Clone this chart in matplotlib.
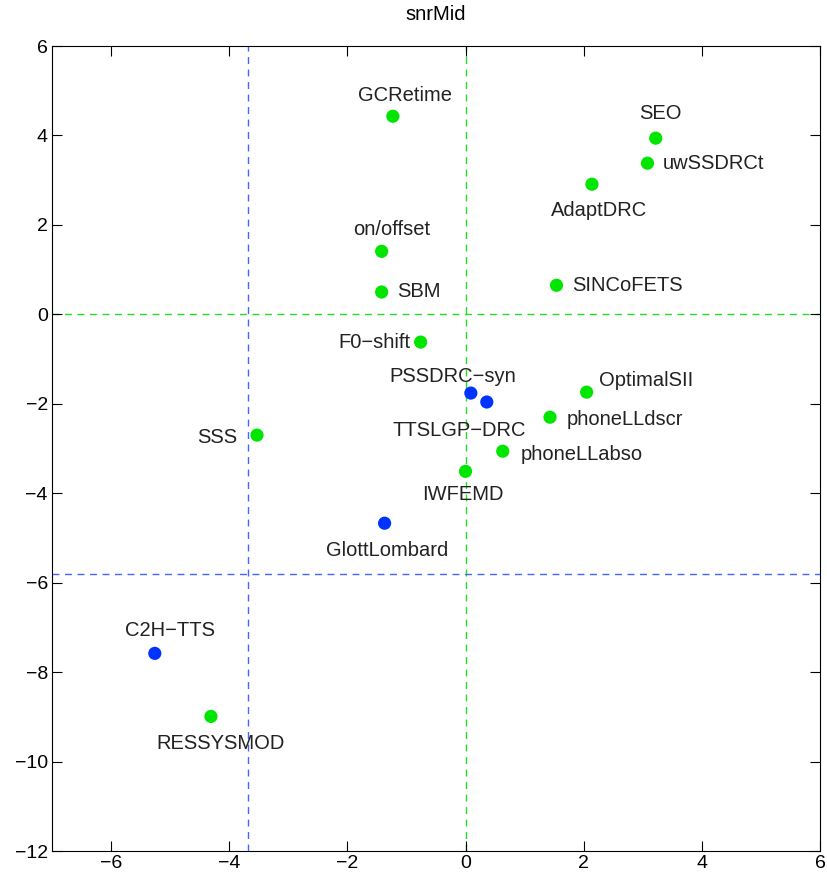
import matplotlib
matplotlib.use("Agg")
import matplotlib.pyplot as plt

# system positions on the two principal axes
names  = ["GCRetime", "SEO", "uwSSDRCt", "AdaptDRC", "on/offset", "SBM",
          "SINCoFETS", "F0\u2212shift", "PSSDRC\u2212syn", "TTSLGP\u2212DRC",
          "OptimalSII", "phoneLLdscr", "SSS", "phoneLLabso", "IWFEMD",
          "GlottLombard", "C2H\u2212TTS", "RESSYSMOD"]
x_vals = [-1.23, 3.22, 3.08, 2.14, -1.42, -1.42, 1.54, -0.76, 0.09, 0.36,
          2.05, 1.43, -3.53, 0.63, 0.00, -1.37, -5.26, -4.31]
y_vals = [4.43, 3.94, 3.38, 2.91, 1.41, 0.50, 0.65, -0.62, -1.76, -1.96,
          -1.74, -2.30, -2.70, -3.06, -3.51, -4.67, -7.58, -8.99]
groups = ["g", "g", "g", "g", "g", "g", "g", "g", "b", "b",
          "g", "g", "g", "g", "g", "b", "b", "g"]

# reference lines
green_x, green_y = 0.0, 0.0
blue_x, blue_y = -3.68, -5.81

# label offsets in pixels (dx, dy, ha)
offsets = [(12, 21, "center"), (5, 25, "center"), (15, 0, "left"),
           (7, -26, "center"), (10, 22, "center"), (15, 0, "left"),
           (16, 0, "left"), (-10, 0, "right"), (-18, 17, "center"),
           (-28, -28, "center"), (12, 12, "left"), (17, -2, "left"),
           (-20, -2, "right"), (18, -3, "left"), (-3, -23, "center"),
           (3, -27, "center"), (15, 23, "center"), (10, -27, "center")]

GREEN = "#00e600"
BLUE = "#0033ff"

plt.rcParams["font.family"] = ["Liberation Sans", "DejaVu Sans"]
plt.rcParams["axes.unicode_minus"] = True

fig = plt.figure(figsize=(8.27, 8.75), dpi=100)
ax = fig.add_axes([0.0629, 0.0274, 0.9286, 0.92])

ax.axvline(green_x, color="#22dd22", linestyle=(0, (5, 4)), linewidth=1.0, zorder=1)
ax.axhline(green_y, color="#22dd22", linestyle=(0, (5, 4)), linewidth=1.0, zorder=1)
ax.axvline(blue_x, color="#4466ff", linestyle=(0, (5, 4)), linewidth=1.0, zorder=1)
ax.axhline(blue_y, color="#4466ff", linestyle=(0, (5, 4)), linewidth=1.0, zorder=1)

for name, x, y, g, (dx, dy, ha) in zip(names, x_vals, y_vals, groups, offsets):
    ax.scatter([x], [y], s=90, color=GREEN if g == "g" else BLUE,
               edgecolors="none", zorder=3)
    ax.annotate(name, xy=(x, y), xytext=(dx, dy), textcoords="offset pixels",
                ha=ha, va="center", fontsize=14.5, color="#222222", zorder=4)

ax.set_xlim(-7, 6)
ax.set_ylim(-12, 6)
ax.set_xticks(range(-6, 7, 2))
ax.set_yticks(range(-12, 7, 2))
ax.tick_params(direction="in", length=7, width=0.8, top=True, right=True,
               labelsize=14, pad=3)
for sp in ax.spines.values():
    sp.set_linewidth(0.8)

ax.set_title("snrMid", fontsize=14.5, pad=19)

fig.savefig("out.png", dpi=100)
